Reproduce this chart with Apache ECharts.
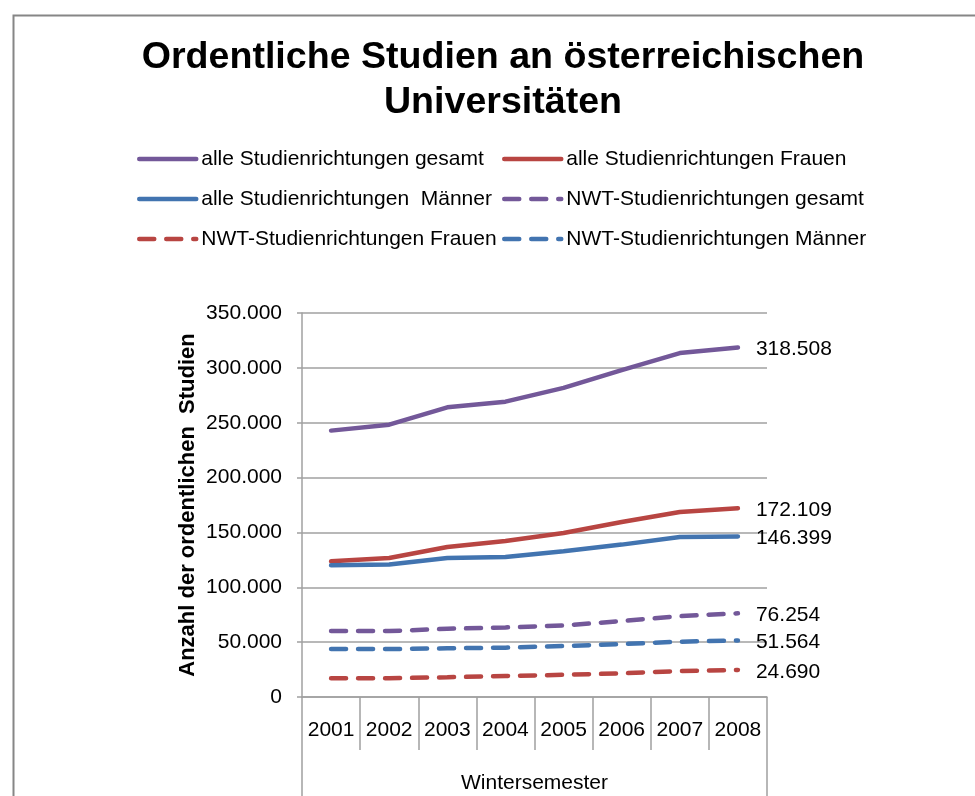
<!DOCTYPE html>
<html>
<head>
<meta charset="utf-8">
<script src="https://cdn.jsdelivr.net/npm/echarts@6/dist/echarts.min.js"></script>
<style>
  html, body { margin: 0; padding: 0; background: #fff; }
  #main { width: 975px; height: 796px; }
</style>
</head>
<body>
<div id="main"></div>
<script>
// Wintersemester
const years = ['2001', '2002', '2003', '2004', '2005', '2006', '2007', '2008'];

// Anzahl der ordentlichen Studien (Werte aus dem Bild geschätzt, 2008 laut Beschriftung)
const alleGesamt = [242800, 248200, 264000, 269200, 281700, 298000, 313500, 318508];
const alleFrauen = [123700, 126700, 136700, 142200, 149500, 159500, 168600, 172109];
const alleMaenner = [120100, 120700, 126700, 127700, 132800, 138900, 145800, 146399];
const nwtGesamt = [60100, 60100, 62200, 63400, 65200, 69200, 73700, 76254];
const nwtMaenner = [43700, 43700, 44400, 45000, 46500, 48200, 50400, 51564];
const nwtFrauen = [17100, 17100, 18000, 19200, 20200, 21600, 23700, 24690];

const yTicks = [0, 50000, 100000, 150000, 200000, 250000, 300000, 350000];

const purple = '#735899';
const red = '#b84542';
const blue = '#4274b0';
const font = '"Liberation Sans", Arial, sans-serif';

function fmt(v) {
    return String(v).replace(/\B(?=(\d{3})+(?!\d))/g, '.');
}

function line(name, vals, color, dashed) {
    return {
        name: name,
        type: 'line',
        data: vals,
        symbol: 'none',
        smooth: false,
        lineStyle: { color: color, width: 4.5, type: dashed ? [15, 12] : 'solid', cap: 'round' },
        itemStyle: { color: color },
        // Beschriftung nur am letzten Punkt
        endLabel: {
            show: true,
            distance: 18,
            offset: [0, 2],
            color: '#000',
            fontFamily: font,
            fontSize: 21,
            formatter: function (p) { return fmt(p.value); }
        },
        z: 3
    };
}

const legendText = { color: '#000', fontFamily: font, fontSize: 21, lineHeight: 24 };
const legendBase = {
    orient: 'vertical',
    top: 147,
    padding: 0,
    itemWidth: 57,
    itemHeight: 6,
    itemGap: 16,
    itemStyle: { opacity: 0 },
    lineStyle: { width: 4.5 },
    textStyle: legendText
};

let myChart = echarts.init(document.getElementById('main'));

myChart.setOption({
    animation: false,
    backgroundColor: '#fff',
    title: {
        text: 'Ordentliche Studien an österreichischen\nUniversitäten',
        left: 498,
        textAlign: 'center',
        top: 30,
        textStyle: { fontFamily: font, fontSize: 37.6, fontWeight: 'bold', color: '#000', lineHeight: 45 }
    },
    graphic: [{
        type: 'rect',
        left: 11,
        top: 13,
        shape: { width: 1000, height: 1000 },
        style: { fill: 'none', stroke: '#868686', lineWidth: 2 },
        silent: true
    }],
    legend: [
        Object.assign({}, legendBase, {
            left: 137,
            data: ['alle Studienrichtungen gesamt', 'alle Studienrichtungen  Männer', 'NWT-Studienrichtungen Frauen']
        }),
        Object.assign({}, legendBase, {
            left: 502,
            data: ['alle Studienrichtungen Frauen', 'NWT-Studienrichtungen gesamt', 'NWT-Studienrichtungen Männer']
        })
    ],
    grid: { left: 302, right: 208, top: 313, bottom: 99, containLabel: false },
    xAxis: [{
        type: 'category',
        data: years,
        boundaryGap: true,
        axisLine: { show: true, lineStyle: { color: '#a0a0a0', width: 1.5 } },
        axisTick: { show: true, interval: 0, alignWithLabel: false, length: 53, lineStyle: { color: '#a0a0a0', width: 1.5 } },
        axisLabel: { interval: 0, margin: 23, color: '#000', fontFamily: font, fontSize: 21 },
        splitLine: { show: false }
    }, {
        type: 'category',
        data: ['Wintersemester'],
        position: 'bottom',
        boundaryGap: true,
        axisLine: { show: false },
        axisTick: { show: true, interval: 0, alignWithLabel: false, length: 110, lineStyle: { color: '#a0a0a0', width: 1.5 } },
        axisLabel: { margin: 76, color: '#000', fontFamily: font, fontSize: 21 },
        splitLine: { show: false }
    }],
    yAxis: {
        type: 'value',
        min: yTicks[0],
        max: yTicks[yTicks.length - 1],
        interval: 50000,
        name: 'Anzahl der ordentlichen  Studien',
        nameLocation: 'middle',
        nameGap: 103,
        nameRotate: 90,
        nameTextStyle: { color: '#000', fontFamily: font, fontSize: 22, fontWeight: 'bold' },
        axisLine: { show: true, lineStyle: { color: '#a0a0a0', width: 1.5 } },
        axisTick: { show: true, length: 5, lineStyle: { color: '#a0a0a0', width: 1.5 } },
        axisLabel: { margin: 20, color: '#000', fontFamily: font, fontSize: 21, formatter: fmt },
        splitLine: { show: true, lineStyle: { color: '#a0a0a0', width: 1.5 } }
    },
    series: [
        line('alle Studienrichtungen gesamt', alleGesamt, purple, false),
        line('alle Studienrichtungen Frauen', alleFrauen, red, false),
        line('alle Studienrichtungen  Männer', alleMaenner, blue, false),
        line('NWT-Studienrichtungen gesamt', nwtGesamt, purple, true),
        line('NWT-Studienrichtungen Frauen', nwtFrauen, red, true),
        line('NWT-Studienrichtungen Männer', nwtMaenner, blue, true)
    ]
});
</script>
</body>
</html>
